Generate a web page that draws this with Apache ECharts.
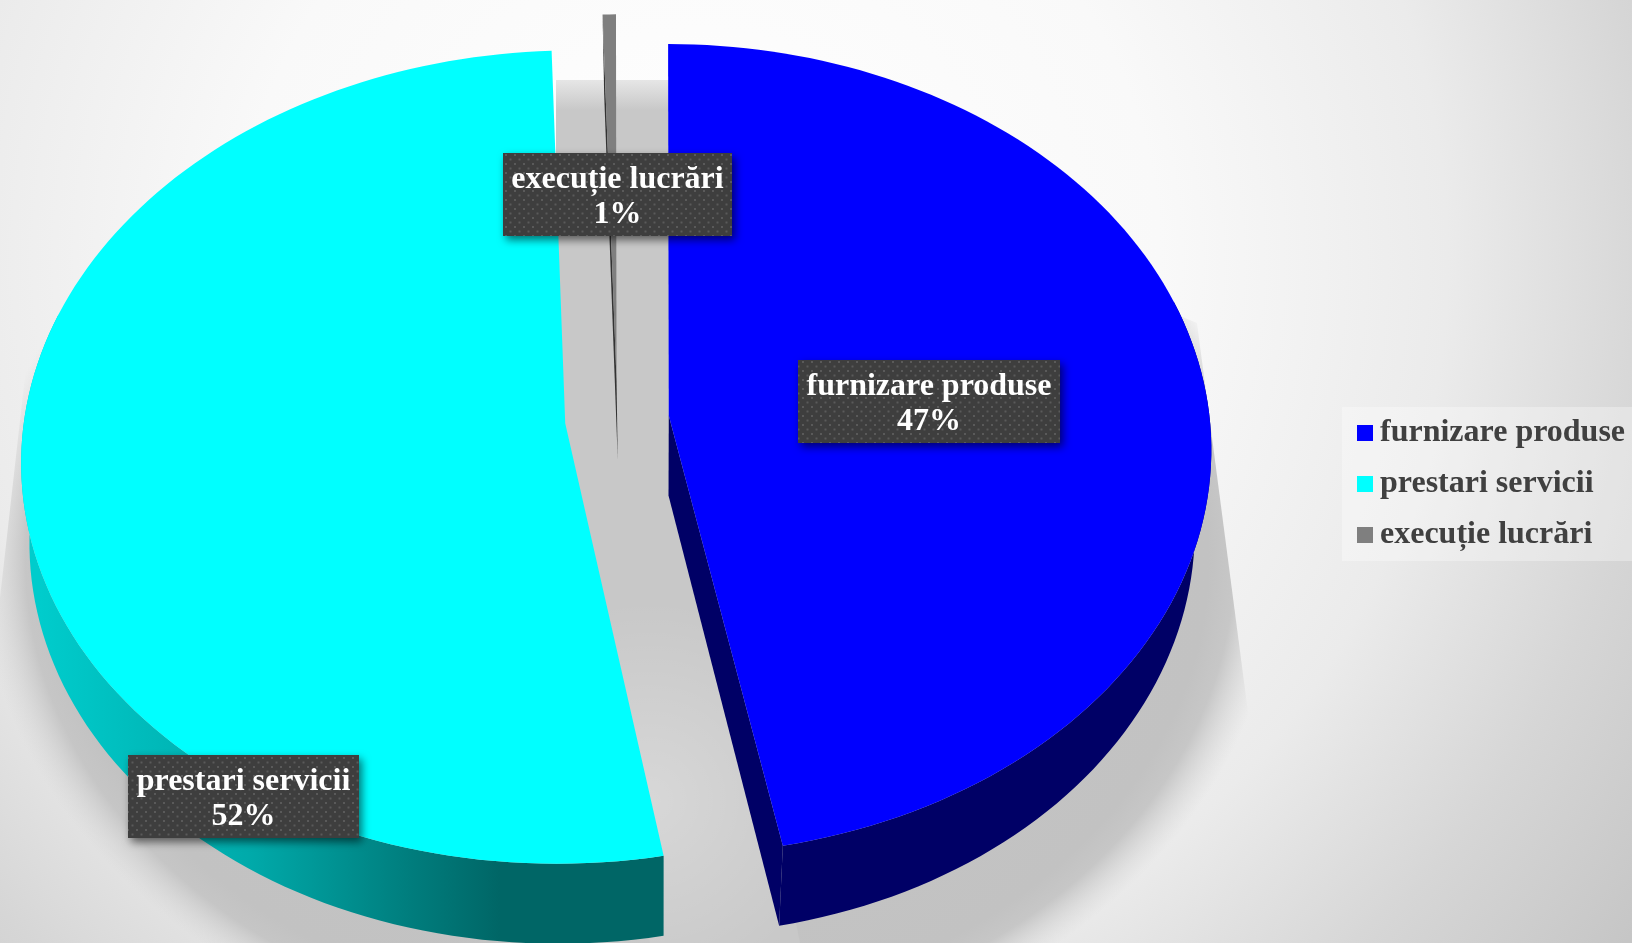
<!DOCTYPE html>
<html>
<head>
<meta charset="utf-8">
<style>html,body{margin:0;padding:0;background:#fff}#c{width:1632px;height:943px}</style>
<script src="https://cdn.jsdelivr.net/npm/echarts@6/dist/echarts.min.js"></script>
</head>
<body>
<div id="c"></div>
<script>
// ---- data ----
const categories = ['furnizare produse', 'prestari servicii', 'execuție lucrări'];
const values = [47.1, 52.4, 0.5];
const percentLabels = ['47%', '52%', '1%'];

// ---- style ----
const faceColors = ['#0000ff', '#00ffff', '#7f7f7f'];
const FONT = 'bold 32px "Liberation Serif", serif';

// ---- 3D pie projection parameters ----
const W = 1632, H = 943;
const CX = 617, CY = 419, R = 541, TILT = 0.745, PERSP = 0.0836, CAMX = 660;
const EXPLODE = 52, DEPTH = 80;
const bottomScale = [0.97, 0.987, 0.972];
const STEP = 1.5;
// small per-slice trims of the start/end angle, in degrees (exploded-slice gaps)
const angleTrim = [[0, -0.65], [0, -0.6], [-0.2, -0.45]];
// which flat cut faces of a slice are seen: [first, last]
const cutVisible = [[false, true], [false, false], [true, false]];
const rimVisible = [true, true, false];
// label boxes: x, y, w, h
const labelBoxes = [[798, 360, 262, 83], [128, 755, 231, 83], [503, 153, 229, 83]];

const wallColors = [
  '#000066',
  { type: 'linear', global: true, x: 40, y: 0, x2: 664, y2: 0, colorStops: [
    { offset: 0, color: '#00cccc' }, { offset: 0.336, color: '#00aaaa' },
    { offset: 0.577, color: '#008080' }, { offset: 0.737, color: '#006666' }, { offset: 1, color: '#006666' }] },
  '#333333'
];

const total = values.reduce((a, b) => a + b, 0);
function angles(i) {
  let start = 0;
  for (let j = 0; j < i; j++) start += values[j] / total * 360;
  return [start, start + values[i] / total * 360];
}
const rad = d => d * Math.PI / 180;
function project(X, Z) {
  const k = 1 / (1 + PERSP * Z / R);
  return [CAMX + (X - CAMX) * k, CY - TILT * Z * k];
}
function lower(p, i) {
  return [CAMX + (p[0] - CAMX) * bottomScale[i], p[1] + DEPTH];
}
function outline(i) {
  const [a0, a1] = angles(i);
  const mid = rad((a0 + a1) / 2);
  const ex = EXPLODE * Math.sin(mid), ez = EXPLODE * Math.cos(mid);
  const b0 = a0 + angleTrim[i][0], b1 = a1 + angleTrim[i][1];
  const apex = project(CX + ex, ez);
  const rim = [], cos = [];
  const n = Math.max(2, Math.ceil((b1 - b0) / STEP));
  for (let s = 0; s <= n; s++) {
    const t = rad(b0 + (b1 - b0) * s / n);
    rim.push(project(CX + ex + R * Math.sin(t), ez + R * Math.cos(t)));
    cos.push(Math.cos(t));
  }
  return { apex, rim, cos };
}

// dotted label fill
const tile = document.createElement('canvas');
tile.width = 9; tile.height = 9;
(function () {
  const c = tile.getContext('2d');
  c.fillStyle = '#3e3e3e'; c.fillRect(0, 0, 9, 9);
  c.fillStyle = '#5a5a5a';
  c.fillRect(1, 1, 2, 2); c.fillRect(5.5, 5.5, 2, 2);
})();

function wallBand(pts, i) {
  const low = pts.map(p => lower(p, i)).reverse();
  return { type: 'polygon', shape: { points: pts.concat(low) }, style: { fill: wallColors[i] } };
}
function renderSlice(i) {
  return function () {
    const { apex, rim, cos } = outline(i);
    const children = [];
    if (cutVisible[i][0]) children.push(wallBand([apex, rim[0]], i));
    if (cutVisible[i][1]) children.push(wallBand([rim[rim.length - 1], apex], i));
    if (rimVisible[i]) {
      children.push(wallBand(rim.filter((p, s) => cos[s] < 0.3), i));
    }
    children.push({ type: 'polygon', shape: { points: [apex].concat(rim) }, style: { fill: faceColors[i] } });
    return { type: 'group', children };
  };
}

function renderLabel(i) {
  return function () {
    const b = labelBoxes[i];
    return {
      type: 'group',
      children: [
        { type: 'rect', shape: { x: b[0], y: b[1], width: b[2], height: b[3] },
          style: { fill: { image: tile, repeat: 'repeat' }, shadowBlur: 9, shadowOffsetX: 3, shadowOffsetY: 4, shadowColor: 'rgba(0,0,0,0.55)' } },
        { type: 'text', style: {
            text: categories[i] + '\n' + percentLabels[i], x: b[0] + b[2] / 2, y: b[1] + b[3] / 2 + 3,
            font: FONT, fill: '#ffffff', align: 'center', verticalAlign: 'middle', lineHeight: 35 } }
      ]
    };
  };
}

function renderBackdrop() {
  const sCx = 630, sCy = 560, sA = 650, sB = 510, sy = sB / sA;
  const uy = y => sCy + (y - sCy) / sy;
  const edgeL = y => 31 - (y - 323) * 31 / 275;
  const edgeR = y => 1197 + (y - 323) * 49 / 374;
  const sidePts = [
    [900, 200], [edgeR(323), 323], [edgeR(943), 943], [edgeL(943), 943], [edgeL(323), 323], [300, 200]
  ].map(p => [p[0], uy(p[1])]);
  return {
    type: 'group',
    children: [
      { type: 'rect', shape: { x: 0, y: 0, width: W, height: H }, style: {
          fill: { type: 'radial', global: true, x: 700, y: 260, r: 1150, colorStops: [
            { offset: 0, color: '#ffffff' }, { offset: 0.4, color: '#f9f9f9' },
            { offset: 0.65, color: '#ebebeb' }, { offset: 0.83, color: '#d6d6d6' }, { offset: 1, color: '#c6c6c6' }] } } },
      { type: 'polygon', scaleY: sy, originX: sCx, originY: sCy,
        shape: { points: sidePts },
        style: { fill: { type: 'radial', global: true, x: sCx, y: sCy, r: sA, colorStops: [
          { offset: 0, color: 'rgba(200,200,200,1)' }, { offset: 0.89, color: 'rgba(194,194,194,1)' },
          { offset: 0.93, color: 'rgba(192,192,192,0.85)' }, { offset: 1, color: 'rgba(210,210,210,0)' }] } } },
      { type: 'polygon', shape: { points: [[556, 80], [690, 80], [700, 430], [800, 943], [650, 943], [556, 430]] },
        style: { fill: '#c8c8c8' } },
      { type: 'rect', shape: { x: 540, y: 80, width: 150, height: 30 }, style: {
          fill: { type: 'linear', x: 0, y: 0, x2: 0, y2: 1, colorStops: [
            { offset: 0, color: 'rgba(255,255,255,0.55)' }, { offset: 1, color: 'rgba(255,255,255,0)' }] } } },
      { type: 'rect', shape: { x: 540, y: 430, width: 240, height: 513 }, style: {
          fill: { type: 'radial', global: true, x: 650, y: 800, r: 200, colorStops: [
            { offset: 0, color: 'rgba(255,255,255,0.28)' }, { offset: 1, color: 'rgba(255,255,255,0)' }] } } }
    ]
  };
}

const sliceSeries = categories.map((name, i) => ({
  type: 'custom', name, coordinateSystem: 'none', silent: true, z: 3,
  itemStyle: { color: faceColors[i] },
  data: [[values[i]]], renderItem: renderSlice(i)
}));
const labelSeries = categories.map((name, i) => ({
  type: 'custom', name: 'label-' + name, coordinateSystem: 'none', silent: true, z: 4,
  data: [[values[i]]], renderItem: renderLabel(i)
}));

const chart = echarts.init(document.getElementById('c'), null, { renderer: 'canvas', width: W, height: H });
chart.setOption({
  animation: false,
  legend: {
    data: categories, orient: 'vertical', left: 1342, top: 407, z: 5,
    padding: [6, 7, 6, 15], itemGap: 11, itemWidth: 16, itemHeight: 16,
    icon: 'rect', selectedMode: false,
    backgroundColor: 'rgba(255,255,255,0.32)',
    textStyle: { fontFamily: '"Liberation Serif", serif', fontWeight: 'bold', fontSize: 32, color: '#404040', lineHeight: 34, padding: [6, 0, 0, 2] }
  },
  series: [
    { type: 'custom', name: 'backdrop', coordinateSystem: 'none', silent: true, z: 1, data: [[0]], renderItem: renderBackdrop }
  ].concat(sliceSeries, labelSeries)
});
</script>
</body>
</html>
